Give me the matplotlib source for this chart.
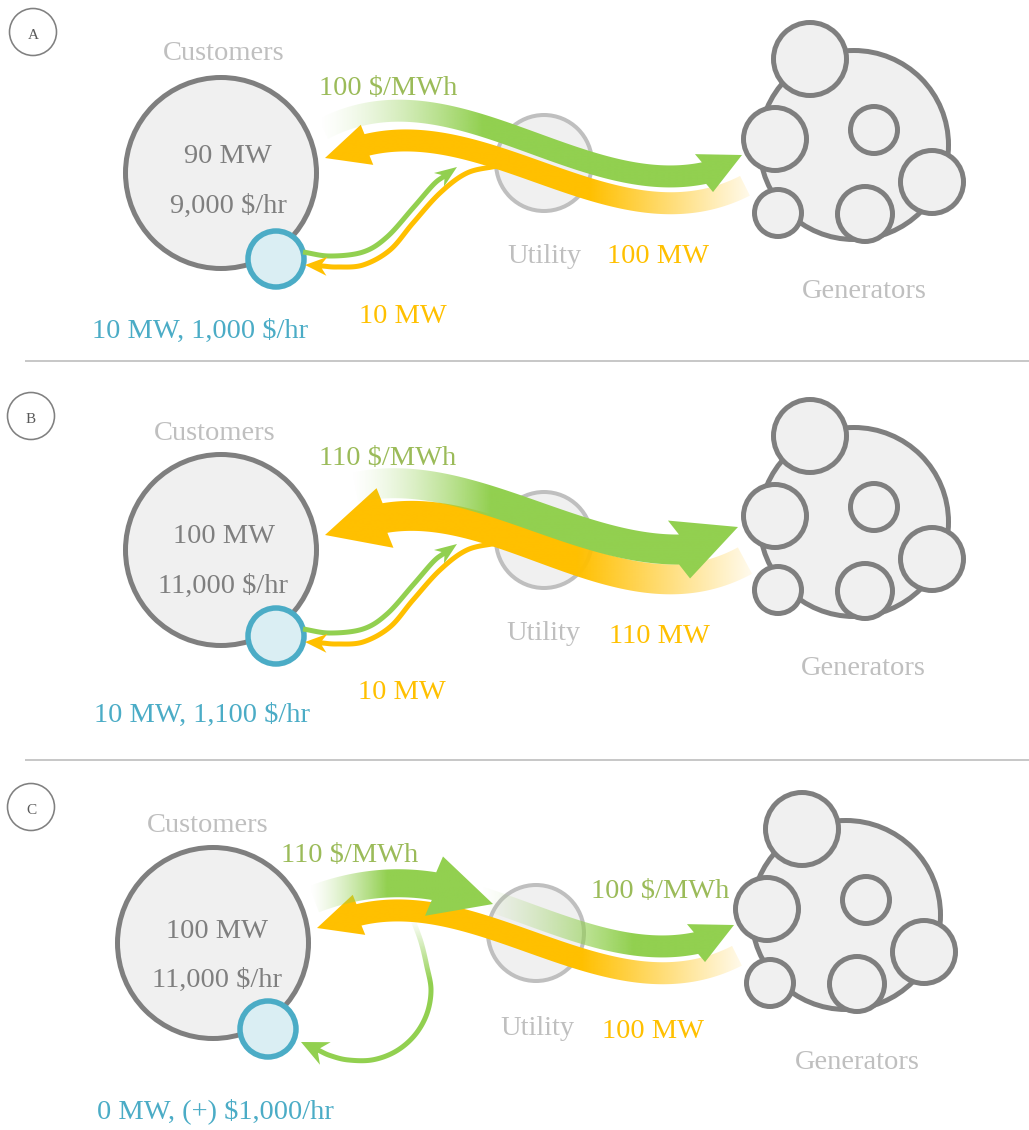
import numpy as np
import matplotlib
matplotlib.use("Agg")
import matplotlib.pyplot as plt
from matplotlib.patches import Circle, PathPatch, Rectangle
from matplotlib.path import Path
from matplotlib.colors import to_rgb

# ---------------- data (labels shown in the three panels) ----------------
panel_letters = ["A", "B", "C"]
customer_mw = ["90 MW", "100 MW", "100 MW"]
customer_cost = ["9,000 $/hr", "11,000 $/hr", "11,000 $/hr"]
self_gen_labels = ["10 MW, 1,000 $/hr", "10 MW, 1,100 $/hr", "0 MW, (+) $1,000/hr"]
retail_price = ["100 $/MWh", "110 $/MWh", "110 $/MWh"]
self_flow = ["10 MW", "10 MW", ""]
utility_mw = ["100 MW", "110 MW", "100 MW"]
wholesale_price_c = "100 $/MWh"
node_names = ["Customers", "Utility", "Generators"]

# ---------------- styling ----------------
GREEN = "#92d050"
ORANGE = "#ffc000"
GREEN_TXT = "#9bbb59"
TEAL = "#4bacc6"
TEAL_FILL = "#daeef3"
GRAY_EDGE = "#7f7f7f"
LIGHT_EDGE = "#bfbfbf"
FILL = "#f0f0f0"
FONT = "Liberation Serif"
FS = 20.5
PX = 0.72  # points per pixel at dpi 100

fig = plt.figure(figsize=(10.29, 11.30), dpi=100)
ax = fig.add_axes([0, 0, 1, 1])
ax.set_xlim(0, 1029)
ax.set_ylim(1130, 0)
ax.axis("off")

OFFS = [(0, 0), (0, 377), (-8, 770)]


def cr_line(pts, end_dir=None, n=40):
    P = np.asarray(pts, float)
    p0 = 2 * P[0] - P[1]
    if end_dir is None:
        pe = 2 * P[-1] - P[-2]
    else:
        pe = P[-2] + 2 * np.linalg.norm(P[-1] - P[-2]) * end_dir
    Q = np.vstack([p0, P, pe])
    out = []
    t = np.linspace(0, 1, n, endpoint=False)[:, None]
    for i in range(1, len(Q) - 2):
        a, b, c, d = Q[i - 1], Q[i], Q[i + 1], Q[i + 2]
        seg = 0.5 * ((2 * b) + (-a + c) * t + (2 * a - 5 * b + 4 * c - d) * t ** 2
                     + (-a + 3 * b - 3 * c + d) * t ** 3)
        out.append(seg)
    out.append(P[-1][None, :])
    return np.vstack(out)


def fit_line(pts, deg=3, n=300):
    P = np.asarray(pts, float)
    coef = np.polyfit(P[:, 0], P[:, 1], deg)
    xs = np.linspace(P[0, 0], P[-1, 0], n)
    return np.column_stack([xs, np.polyval(coef, xs)])


def ribbon_poly(C, width, tip=None, hw=0, notch=0):
    C = np.asarray(C, float)
    T = np.gradient(C, axis=0)
    T /= np.linalg.norm(T, axis=1)[:, None]
    N = np.column_stack([-T[:, 1], T[:, 0]])
    left = C + width / 2 * N
    right = C - width / 2 * N
    if tip is None:
        return np.vstack([left, right[::-1]])
    tip = np.asarray(tip, float)
    d = tip - C[-1]
    d = d / np.linalg.norm(d)
    nn = np.array([-d[1], d[0]])
    if np.dot(nn, N[-1]) < 0:
        nn = -nn
    base = C[-1] - notch * d
    head = np.array([base + hw * nn, tip, base - hw * nn])
    return np.vstack([left, head, right[::-1]])


def grad_fill(poly, color, alpha_fn, z):
    poly = np.vstack([poly, poly[:1]])
    codes = [Path.MOVETO] + [Path.LINETO] * (len(poly) - 2) + [Path.CLOSEPOLY]
    path = Path(poly, codes)
    patch = PathPatch(path, facecolor="none", edgecolor="none", transform=ax.transData)
    ax.add_patch(patch)
    x0, y0 = poly.min(0) - 3
    x1, y1 = poly.max(0) + 3
    nx, ny = int(x1 - x0) + 2, int(y1 - y0) + 2
    X, Y = np.meshgrid(np.linspace(x0, x1, nx), np.linspace(y0, y1, ny))
    img = np.zeros((ny, nx, 4))
    img[..., :3] = to_rgb(color)
    img[..., 3] = alpha_fn(X, Y)
    im = ax.imshow(img, extent=(x0, x1, y1, y0), origin="upper",
                   interpolation="bilinear", zorder=z)
    im.set_clip_path(patch)


def ramp(v, a, b, g=1.0):
    return np.clip((v - a) / (b - a), 0, 1) ** g


def shift(pts, off):
    return [(x + off[0], y + off[1]) for x, y in pts]


def sh(p, off):
    return (p[0] + off[0], p[1] + off[1])


# ---------------- local geometry (panel-local coordinates) ----------------
CUST = (221, 173)
TEAL_C = (276, 259)
UTIL = (544, 163)
GEN_BIG = (854, 145, 94.5)
GEN_SMALL = [(810, 59, 36.5), (775, 139, 31.5), (874, 130, 23.5),
             (932, 182, 31.5), (865, 214, 27.5), (778, 213, 23.5)]

green_A = [(323, 128), (400, 114), (450, 116), (500, 129), (550, 148),
           (600, 167), (650, 177), (704, 172)]
green_A_tip = (742, 155)
orange_A = [(745, 186), (700, 200), (650, 203), (600, 192), (550, 176),
            (500, 158), (450, 146), (400, 140), (367, 145)]
orange_A_tip = (325, 158)

green_B = [(355, 110), (433, 111), (483, 121), (533, 137), (583, 156),
           (633, 169), (679, 172)]
green_B_tip = (738, 150)
orange_B = [(745, 183), (683, 203), (633, 199), (583, 185), (533, 166),
            (483, 151), (433, 142), (385, 140)]
orange_B_tip = (325, 158)

green1_C = [(322, 129), (388, 115), (421, 112), (442, 117)]
green1_C_tip = (501, 134)

thin_green = [(303, 252), (330, 256), (363, 252), (387, 237), (413, 208),
              (433, 185), (443, 177)]
thin_green_tip = (457, 167)
thin_orange = [(497, 166), (467, 173), (440, 193), (413, 223), (390, 250),
               (363, 265), (337, 267), (322, 266)]
thin_orange_tip = (305, 265)

loop_C = [(421, 150), (429, 172), (434.7, 195.7), (439, 220), (434.7, 244.3),
          (422.4, 265.6), (403.5, 281.5), (380.3, 289.9), (355.7, 289.9),
          (338, 285.5), (327, 280.5)]
loop_C_tip = (309, 272)

# ---------------- separators ----------------
for ysep in (361, 760):
    ax.plot([26, 1029], [ysep, ysep], color="#c8c8c8", lw=2 * PX, zorder=1)

# ---------------- panel label circles ----------------
label_pos = [(33, 32, 39), (31, 416, 423), (31, 807, 814)]
for (lx, ly, lb), letter in zip(label_pos, panel_letters):
    ax.add_patch(Circle((lx, ly), 23.5, facecolor="white", edgecolor="#808080",
                        lw=1.6 * PX, zorder=2))
    ax.text(lx, lb, letter, ha="center", va="baseline", fontsize=11,
            family=FONT, color="#595959", zorder=3)

# ---------------- nodes ----------------
for off in OFFS:
    ax.add_patch(Circle(sh(CUST, off), 95.5, facecolor=FILL,
                        edgecolor=GRAY_EDGE, lw=5 * PX, zorder=3))
    ax.add_patch(Circle(sh(TEAL_C, off), 28, facecolor=TEAL_FILL,
                        edgecolor=TEAL, lw=5.5 * PX, zorder=4))
    ax.add_patch(Circle(sh(UTIL, off), 48, facecolor=FILL,
                        edgecolor=LIGHT_EDGE, lw=4 * PX, zorder=3))
    gx, gy, gr = GEN_BIG
    ax.add_patch(Circle((gx + off[0], gy + off[1]), gr, facecolor=FILL,
                        edgecolor=GRAY_EDGE, lw=5 * PX, zorder=3))
    for sx, sy, sr in GEN_SMALL:
        ax.add_patch(Circle((sx + off[0], sy + off[1]), sr, facecolor=FILL,
                            edgecolor=GRAY_EDGE, lw=5 * PX, zorder=4))

solid = lambda X, Y: np.ones_like(X)


def thin_arrow(pts, tip, hw, notch, off, color, alpha_fn=solid, w=5):
    P = shift(pts, off)
    T = np.asarray(sh(tip, off), float)
    d = T - np.asarray(P[-1], float)
    d /= np.linalg.norm(d)
    C = cr_line(P, end_dir=d)
    grad_fill(ribbon_poly(C, w, T, hw, notch), color, alpha_fn, 6)


def big_arrow(pts, tip, width, hw, off, color, alpha_fn, z, deg=3):
    C = fit_line(shift(pts, off), deg)
    grad_fill(ribbon_poly(C, width, sh(tip, off), hw), color, alpha_fn, z)


# ---------------- panel A ----------------
off = OFFS[0]
thin_arrow(thin_green, thin_green_tip, 8.5, 5, off, GREEN)
thin_arrow(thin_orange, thin_orange_tip, 9.5, 5, off, ORANGE)
big_arrow(orange_A, orange_A_tip, 22, 21, off, ORANGE,
          lambda X, Y: ramp(X, 765 + off[0], 590 + off[0]), 7)
big_arrow(green_A, green_A_tip, 22, 21, off, GREEN,
          lambda X, Y: ramp(X, 318 + off[0], 482 + off[0], 1.4), 8)

# ---------------- panel B ----------------
off = OFFS[1]
thin_arrow(thin_green, thin_green_tip, 8.5, 5, off, GREEN)
thin_arrow(thin_orange, thin_orange_tip, 9.5, 5, off, ORANGE)
big_arrow(orange_B, orange_B_tip, 30, 31, off, ORANGE,
          lambda X, Y: ramp(X, 765 + off[0], 577 + off[0]), 7)
big_arrow(green_B, green_B_tip, 30, 31, off, GREEN,
          lambda X, Y: ramp(X, 350 + off[0], 490 + off[0], 1.4), 8)

# ---------------- panel C ----------------
off = OFFS[2]
thin_arrow(loop_C, loop_C_tip, 12.5, 7, off, GREEN,
           lambda X, Y: ramp(Y, 150 + off[1], 212 + off[1]))
big_arrow(orange_A, orange_A_tip, 22, 21, off, ORANGE,
          lambda X, Y: ramp(X, 765 + off[0], 590 + off[0]), 7)
big_arrow(green_A, green_A_tip, 22, 21, off, GREEN,
          lambda X, Y: ramp(X, 488 + off[0], 640 + off[0], 1.3), 8)
big_arrow(green1_C, green1_C_tip, 28, 31, off, GREEN,
          lambda X, Y: ramp(X, 318 + off[0], 395 + off[0], 1.3), 8, deg=2)


# ---------------- texts ----------------
def txt(x, y, s, color, clip_y=None):
    t = ax.text(x, y, s, ha="center", va="baseline", fontsize=FS, family=FONT,
                color=color, zorder=10)
    if clip_y is not None:
        r = Rectangle((0, 0), 1029, clip_y, transform=ax.transData)
        t.set_clip_path(r)
    return t


# (x, baseline) positions per panel
cust_name_pos = [(224, 60, None), (215, 440, 437), (208, 832, None)]
mw_pos = [(228, 163), (224, 543), (217, 938)]
cost_pos = [(228, 213), (223, 593), (217, 987)]
self_pos = [(200, 338, None), (202, 722, None), (215, 1118, 1117)]
price_pos = [(388, 95), (388, 465), (350, 862)]
flow_pos = [(403, 323), (402, 699), None]
util_pos = [(544, 263), (543, 640), (537, 1035)]
umw_pos = [(658, 263), (659, 643), (653, 1038)]
gen_pos = [(864, 298), (863, 675), (857, 1069)]

for i in range(3):
    x, y, cl = cust_name_pos[i]
    txt(x, y, node_names[0], LIGHT_EDGE, cl)
    txt(*mw_pos[i], customer_mw[i], GRAY_EDGE)
    txt(*cost_pos[i], customer_cost[i], GRAY_EDGE)
    x, y, cl = self_pos[i]
    txt(x, y, self_gen_labels[i], TEAL, cl)
    txt(*price_pos[i], retail_price[i], GREEN_TXT)
    if flow_pos[i] is not None and self_flow[i]:
        txt(*flow_pos[i], self_flow[i], ORANGE)
    txt(*util_pos[i], node_names[1], LIGHT_EDGE)
    txt(*umw_pos[i], utility_mw[i], ORANGE)
    txt(*gen_pos[i], node_names[2], LIGHT_EDGE)

txt(660, 898, wholesale_price_c, GREEN_TXT)

ax.set_xlim(0, 1029)
ax.set_ylim(1130, 0)
ax.set_aspect("auto")
fig.savefig("out.png", dpi=100)
